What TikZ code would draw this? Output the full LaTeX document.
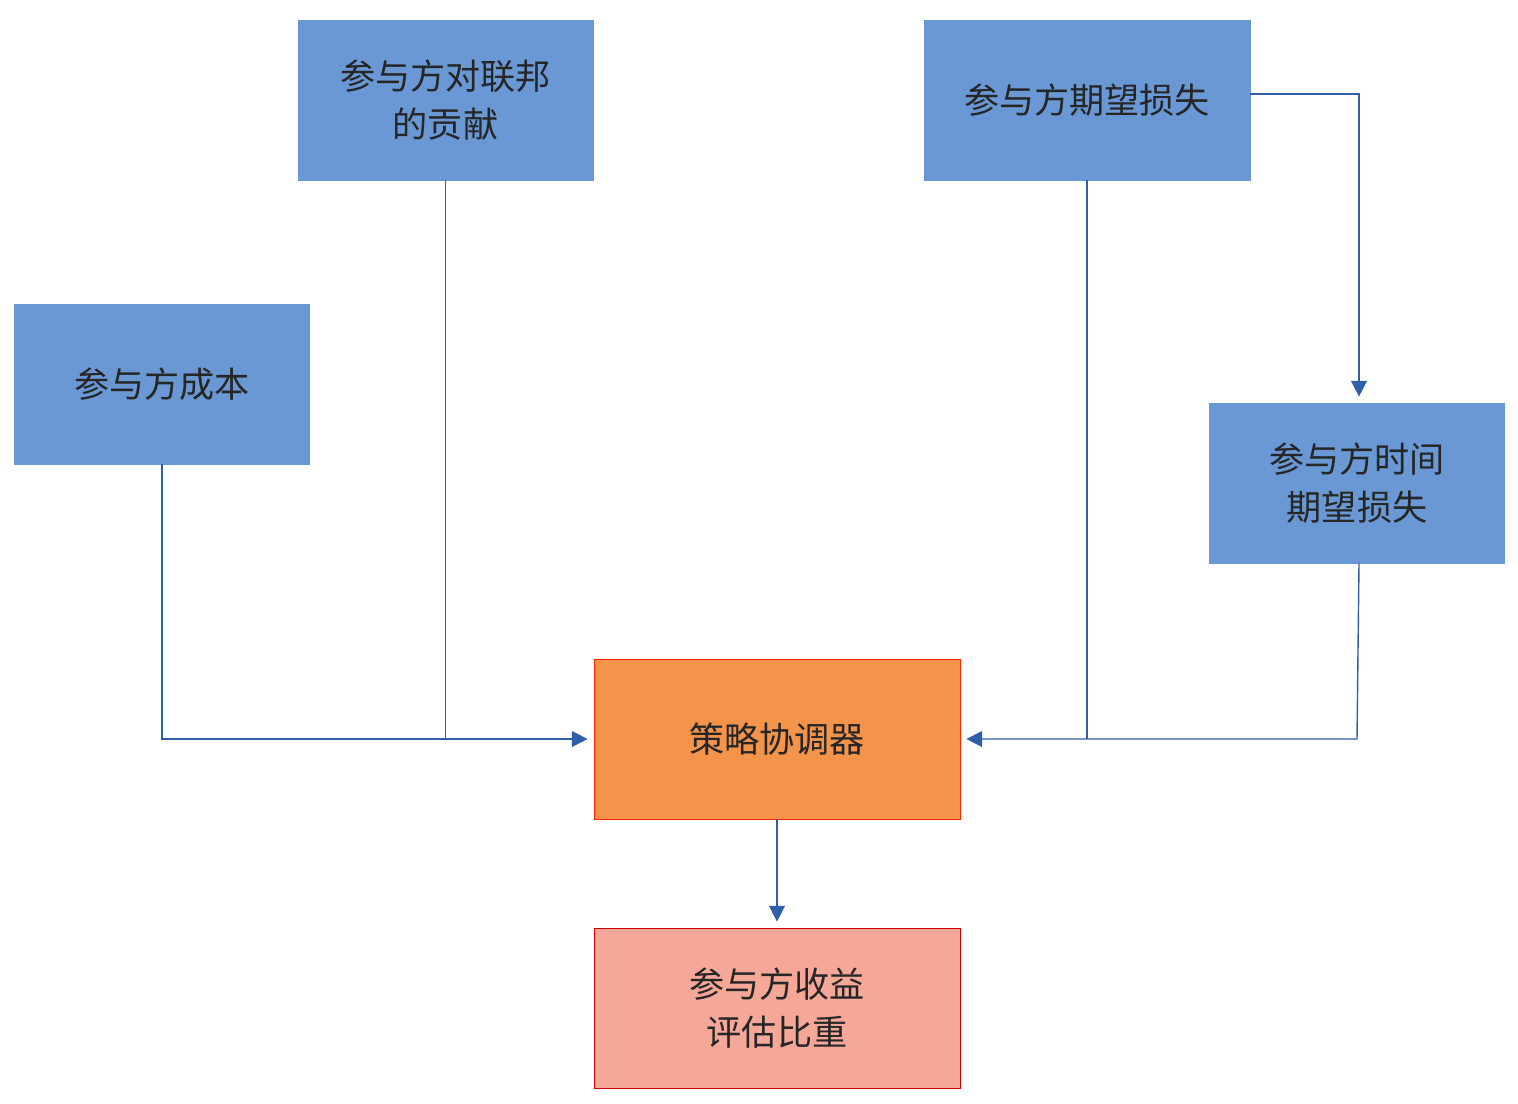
\documentclass[tikz,border=0pt]{standalone}
\usepackage{fontspec}
\setmainfont{Noto Sans CJK SC}
\usetikzlibrary{arrows.meta}
\definecolor{boxblue}{HTML}{6A98D4}
\definecolor{boxorange}{HTML}{F4944A}
\definecolor{boxpink}{HTML}{F6A898}
\definecolor{linkblue}{HTML}{2F5FA8}
\tikzset{
 box/.style={draw=#1, minimum width=295*0.02cm, minimum height=160*0.02cm, inner sep=0, align=center,
   font=\fontsize{20}{27}\selectfont, text=black!85},
 link/.style={linkblue, line width=0.8pt},
 arr/.style={link, -{Triangle[length=9pt,width=9pt]}, shorten >=6*0.02cm}
}
\begin{document}
\begin{tikzpicture}[x=0.02cm, y=-0.02cm]
\useasboundingbox (0,0) rectangle (1518,1103);
\node[box=boxblue, fill=boxblue] (contrib) at (445.5,100) {参与方对联邦\\的贡献};
\node[box=boxblue, fill=boxblue, minimum width=326*0.02cm] (expect) at (1087,100) {参与方期望损失};
\node[box=boxblue, fill=boxblue] (cost) at (162,384) {参与方成本};
\node[box=boxblue, fill=boxblue] (time) at (1357,483) {参与方时间\\期望损失};
\node[box={red!70!orange}, fill=boxorange, minimum width=366*0.02cm] (coord) at (777,739) {策略协调器};
\node[box={red!80!black}, fill=boxpink, minimum width=366*0.02cm] (benefit) at (777,1008) {参与方收益\\评估比重};
% left inputs
\coordinate (j1) at (cost.south |- coord.west);
\coordinate (j2) at (contrib.south |- coord.west);
\draw[link] (contrib.south) -- (j2);
\draw[arr] (cost.south) -- (j1) -- (coord.west);
% right inputs
\coordinate (j3) at (expect.south |- coord.east);
\coordinate (j4) at (time.south |- coord.east);
\coordinate (k1) at (1359,94);
\draw[link] (expect.south) -- (j3);
\draw[arr] (time.south -| k1) -- (j4) -- (coord.east);
\draw[arr] (expect.east |- k1) -- (k1) -- (k1 |- time.north);
% output
\draw[arr] (coord.south) -- (benefit.north);
\end{tikzpicture}
\end{document}
